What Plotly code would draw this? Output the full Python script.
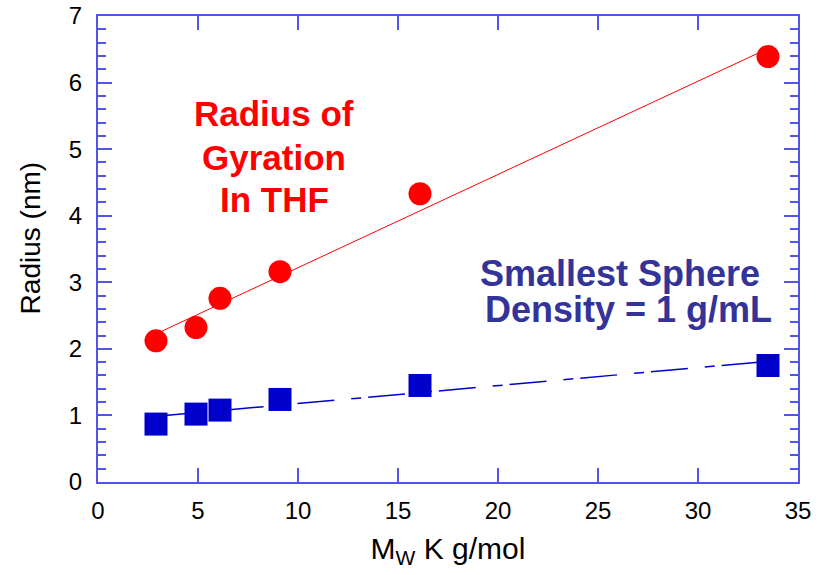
import numpy as np
import plotly.graph_objects as go

# ---- data ----
mw_k = [2.9, 4.9, 6.1, 9.1, 16.1, 33.5]
radius_gyration = [2.12, 2.32, 2.76, 3.16, 4.33, 6.39]
radius_sphere = [0.87, 1.02, 1.08, 1.24, 1.45, 1.75]
x_ticks = [0, 5, 10, 15, 20, 25, 30, 35]
y_ticks = [0, 1, 2, 3, 4, 5, 6, 7]

x = np.array(mw_k)
xf = np.array([min(mw_k), max(mw_k)])
pg = np.polyfit(x, radius_gyration, 1)
ps = np.polyfit(x, radius_sphere, 1)

AX = "#5454e6"
RED = "#ff0000"
BLUE = "#0000cc"
TXTBLUE = "#333399"
FONT = "Liberation Sans, Arial, sans-serif"

fig = go.Figure()
fig.add_trace(go.Scatter(x=xf, y=np.polyval(pg, xf), mode="lines",
                         line=dict(color=RED, width=1), hoverinfo="skip"))
fig.add_trace(go.Scatter(x=xf, y=np.polyval(ps, xf), mode="lines",
                         line=dict(color=BLUE, width=1.5, dash="37px,17px,10px,7px"),
                         hoverinfo="skip"))
fig.add_trace(go.Scatter(x=mw_k, y=radius_gyration, mode="markers",
                         marker=dict(symbol="circle", size=23, color=RED,
                                     line=dict(width=0))))
fig.add_trace(go.Scatter(x=mw_k, y=radius_sphere, mode="markers",
                         marker=dict(symbol="square", size=23, color=BLUE,
                                     line=dict(width=0))))

ann_red = ["Radius of", "Gyration", "In THF"]
ann_red_y = [5.54, 4.87, 4.25]
ann_blue = ["Smallest Sphere", "Density = 1 g/mL"]
ann_blue_x = [26.1, 26.5]
ann_blue_y = [3.125, 2.595]

annotations = []
for t, yy in zip(ann_red, ann_red_y):
    annotations.append(dict(x=8.8, y=yy, xref="x", yref="y", text="<b>%s</b>" % t,
                            showarrow=False, xanchor="center", yanchor="middle",
                            font=dict(family=FONT, size=35, color=RED)))
for t, xx, yy in zip(ann_blue, ann_blue_x, ann_blue_y):
    annotations.append(dict(x=xx, y=yy, xref="x", yref="y", text="<b>%s</b>" % t,
                            showarrow=False, xanchor="center", yanchor="middle",
                            font=dict(family=FONT, size=36, color=TXTBLUE)))
# y-axis title as rotated annotation (sits slightly above plot centre)
annotations.append(dict(x=-0.097, y=0.523, xref="paper", yref="paper",
                        text="Radius (nm)", textangle=-90, showarrow=False,
                        xanchor="center", yanchor="middle",
                        font=dict(family=FONT, size=28, color="black")))

fig.update_layout(
    width=824, height=575,
    margin=dict(l=98, r=26, t=16, b=93),
    paper_bgcolor="white", plot_bgcolor="white",
    showlegend=False,
    font=dict(family=FONT, color="black"),
    annotations=annotations,
    xaxis=dict(range=[0, 35], tickvals=x_ticks, ticktext=[str(v) for v in x_ticks],
               showgrid=False, zeroline=False, automargin=False,
               showline=True, linecolor=AX, linewidth=2, mirror="allticks",
               ticks="inside", ticklen=14, tickwidth=1.5, tickcolor=AX,
               ticklabelstandoff=6,
               tickfont=dict(size=24, family=FONT),
               title=dict(text="M<sub>W</sub> K g/mol", font=dict(size=30, family=FONT),
                          standoff=15)),
    yaxis=dict(range=[0, 7], tickvals=y_ticks, ticktext=[str(v) for v in y_ticks],
               showgrid=False, zeroline=False, automargin=False,
               showline=True, linecolor=AX, linewidth=2, mirror="allticks",
               ticks="inside", ticklen=14, tickwidth=1.5, tickcolor=AX,
               ticklabelstandoff=9,
               tickfont=dict(size=24, family=FONT),
               minor=dict(dtick=0.2, ticks="inside", ticklen=8, tickwidth=1.5,
                          tickcolor=AX, showgrid=False)),
)

fig.write_html("out.html")
